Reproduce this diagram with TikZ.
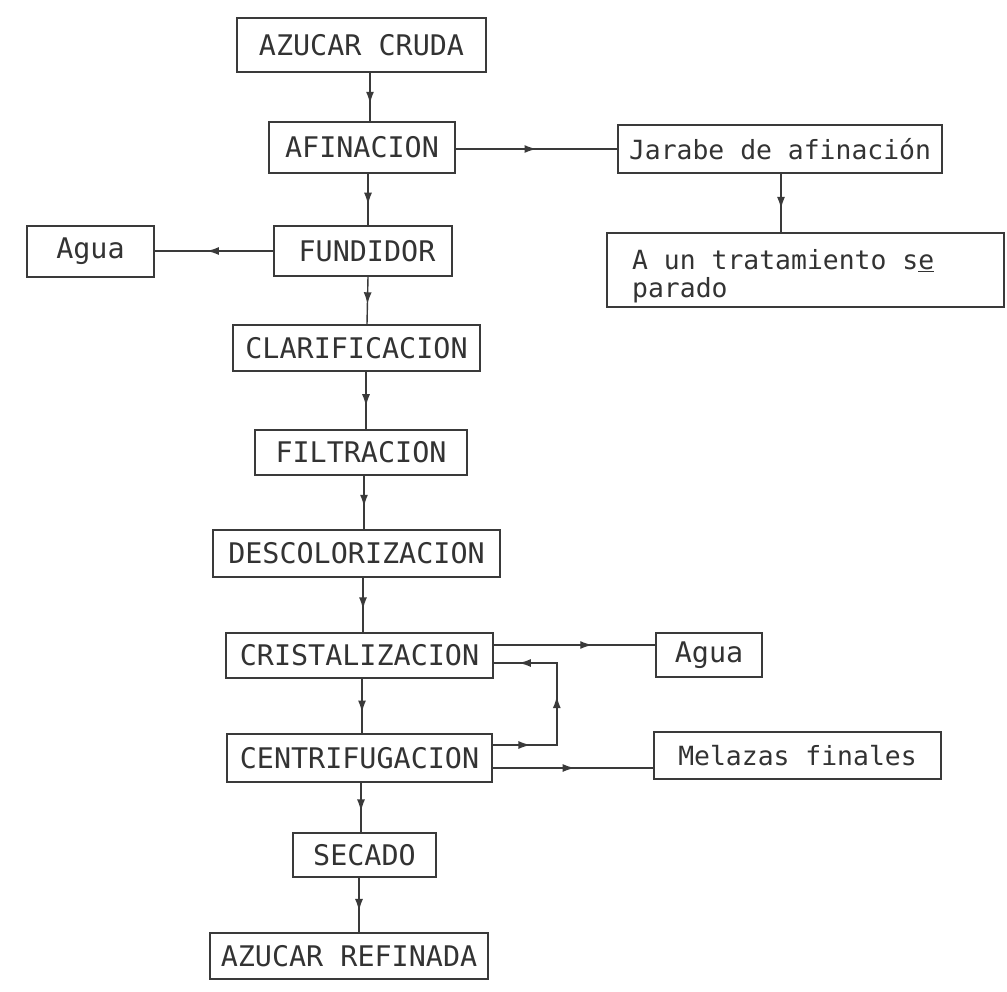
\documentclass[tikz,border=0pt]{standalone}
\usepackage{fontspec}
\newfontfamily\tw{DejaVu Sans Mono}
\usetikzlibrary{arrows.meta,decorations.markings}
\definecolor{ink}{HTML}{3A3A3A}
\definecolor{txt}{HTML}{333333}
\begin{document}
\begin{tikzpicture}[x=1pt,y=-1pt,
  >={Latex[length=12pt,width=8pt]},
  box/.style={draw=ink,line width=1.6pt,rectangle,inner sep=0pt,text=txt,font={\tw\fontsize{28.4}{34}\selectfont}},
  lbox/.style={box,font={\tw\fontsize{26.4}{30}\selectfont}},
  ltext/.style={inner sep=0pt,text=txt,font={\tw\fontsize{26.4}{28}\selectfont}},
  flow/.style={draw=ink,line width=1.4pt},
  marrow/.style={postaction={decorate},decoration={markings,mark=at position #1 with {\arrow{>}}}},
]
\useasboundingbox (0,0) rectangle (1007,991);
\fill[white] (0,0) rectangle (1007,991);

% main column
\node[box,minimum width=249pt,minimum height=54pt] (cruda) at (361.5,45) {AZUCAR CRUDA};
\node[box,minimum width=186pt,minimum height=51pt] (afin) at (362,147.5) {AFINACION};
\node[box,minimum width=178pt,minimum height=50pt] (fund) at (363,251) {\hspace{8pt}FUNDIDOR};
\node[box,minimum width=247pt,minimum height=46pt] (clar) at (356.5,348) {CLARIFICACION};
\node[box,minimum width=212pt,minimum height=45pt] (filt) at (361,452.5) {FILTRACION};
\node[box,minimum width=287pt,minimum height=47pt] (desc) at (356.5,553.5) {DESCOLORIZACION};
\node[box,minimum width=267pt,minimum height=45pt] (crist) at (359.5,655.5) {CRISTALIZACION};
\node[box,minimum width=265pt,minimum height=48pt] (centr) at (359.5,758) {CENTRIFUGACION};
\node[box,minimum width=143pt,minimum height=44pt] (sec) at (364.5,855) {SECADO};
\node[box,minimum width=278pt,minimum height=46pt] (ref) at (349,956) {AZUCAR REFINADA};

% side boxes
\node[lbox,minimum width=324pt,minimum height=48pt] (jarabe) at (780,149) {Jarabe de afinación};
\node[lbox,minimum width=397pt,minimum height=74pt] (trat) at (805.5,270) {};
\node[ltext,anchor=west,align=left] (trattext) at (632,276) {A un tratamiento s\underline{e}\\parado};
\node[box,minimum width=127pt,minimum height=51pt] (agua1) at (90.5,251.5) {Agua};
\node[box,minimum width=106pt,minimum height=44pt] (agua2) at (709,655) {Agua};
\node[lbox,minimum width=287pt,minimum height=47pt] (mel) at (797.5,755.5) {Melazas finales};

% vertical flow
\draw[flow,marrow=0.64] ([xshift=8.5pt]cruda.south) -- ([xshift=8pt]afin.north);
\draw[flow,marrow=0.6] ([xshift=6pt]afin.south) -- ([xshift=5pt]fund.north);
\draw[flow,marrow=0.58] ([xshift=5pt]fund.south) -- ([xshift=10.5pt]clar.north);
\draw[flow,marrow=0.6] ([xshift=9.5pt]clar.south) -- ([xshift=5pt]filt.north);
\draw[flow,marrow=0.58] ([xshift=3pt]filt.south) -- ([xshift=7.5pt]desc.north);
\draw[flow,marrow=0.58] ([xshift=6.5pt]desc.south) -- ([xshift=3.5pt]crist.north);
\draw[flow,marrow=0.62] ([xshift=2.5pt]crist.south) -- ([xshift=2.5pt]centr.north);
\draw[flow,marrow=0.58] ([xshift=1.5pt]centr.south) -- ([xshift=-3.5pt]sec.north);
\draw[flow,marrow=0.61] ([xshift=-5.5pt]sec.south) -- ([xshift=10pt]ref.north);

% side connectors
\draw[flow,marrow=0.5] (afin.east |- jarabe.west) -- (jarabe.west);
\coordinate (c3) at ([xshift=1pt]jarabe.south);
\draw[flow,marrow=0.6] (c3) -- (c3 |- trat.north);
\draw[flow,marrow=0.56] (fund.west) -- (fund.west -| agua1.east);
\coordinate (c1) at ([yshift=10.5pt]crist.east);
\draw[flow,marrow=0.61] (c1) -- (c1 -| agua2.west);
\coordinate (c2) at ([yshift=-10pt]centr.east);
\draw[flow,marrow=0.51] (c2) -- (c2 -| mel.west);

% recycle loop
\coordinate (l1) at ([yshift=13pt]centr.east);
\coordinate (l2) at ([yshift=-7.5pt]crist.east);
\draw[flow,postaction={decorate},decoration={markings,
    mark=at position 0.18 with {\arrow{>}},
    mark=at position 0.54 with {\arrow{>}},
    mark=at position 0.88 with {\arrow{>}}}]
  (l1) -- ++(64,0) |- (l2);
\end{tikzpicture}
\end{document}
